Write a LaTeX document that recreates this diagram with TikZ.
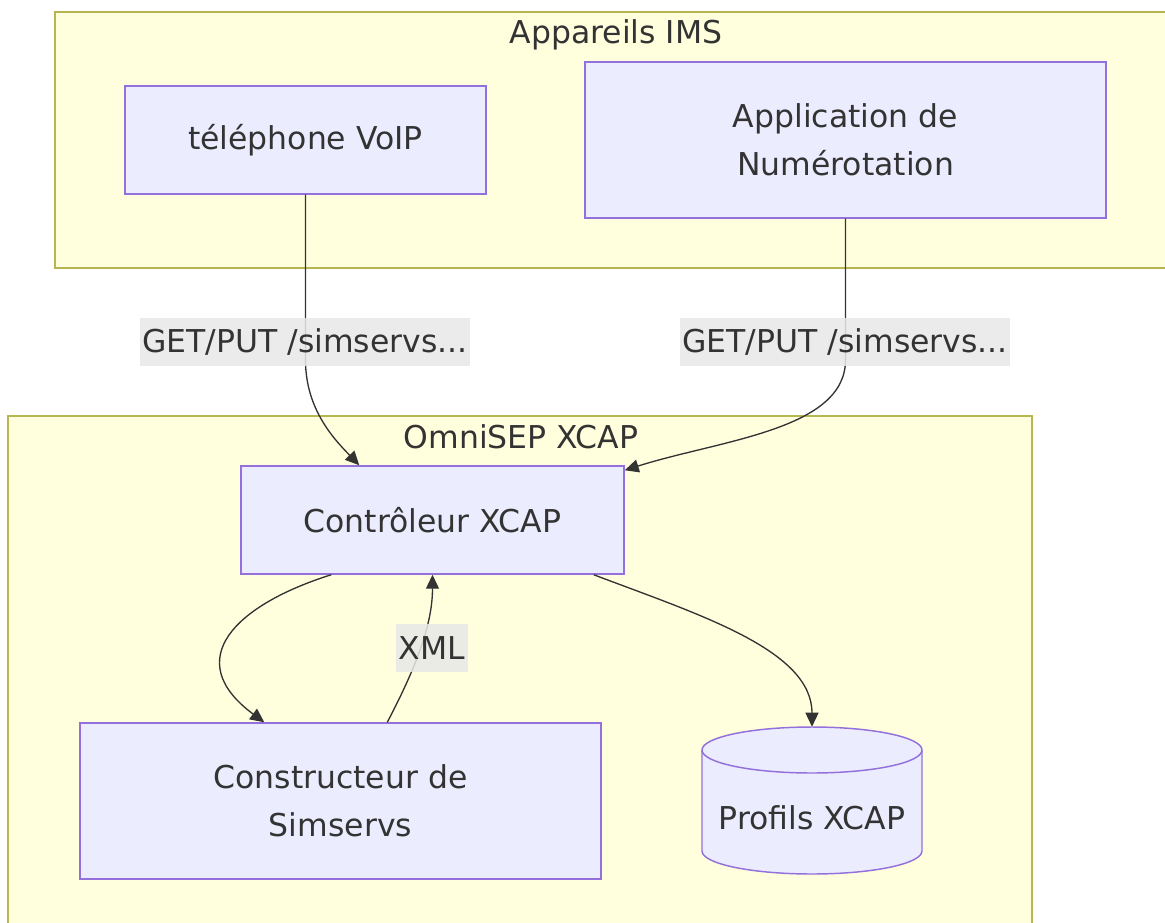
\documentclass[tikz,border=0pt]{standalone}
\usepackage{fontspec}
\setmainfont{DejaVu Sans}
\usetikzlibrary{arrows.meta,calc}
\definecolor{clfill}{HTML}{FFFFDE}
\definecolor{cldraw}{HTML}{AAAA33}
\definecolor{ndfill}{HTML}{ECECFF}
\definecolor{nddraw}{HTML}{9370DB}
\definecolor{txt}{HTML}{333333}
\definecolor{lblfill}{HTML}{E8E8E8}
\begin{document}
\begin{tikzpicture}[x=0.75pt,y=-0.75pt,
  every node/.style={font=\fontsize{23.6}{36}\selectfont, text=txt},
  cluster/.style={draw=cldraw!85!white, fill=clfill, line width=1.3pt},
  box/.style={draw=nddraw, fill=ndfill, line width=1.1pt, align=center, inner sep=0pt},
  edge/.style={draw=txt, line width=1pt, -{Triangle[length=10.5pt,width=9.75pt]}},
  elabel/.style={fill=lblfill, fill opacity=0.85, text opacity=1, inner xsep=2pt, inner ysep=0pt, minimum height=36pt}
]
\useasboundingbox (0,0) rectangle (1165,922);
% clusters
\draw[cluster] (55,12) rectangle (1180,268);
\draw[cluster] (8,416) rectangle (1032,940);
\node (t1) at (616,35) {Appareils IMS};
\node (t2) at (521,437) {OmniSEP XCAP};
% nodes
\node[box, minimum width=270.75pt, minimum height=81pt] (voip) at (305.5,140) {téléphone VoIP};
\node[box, minimum width=390.75pt, minimum height=117pt] (app) at (845.5,140) {Application de\\Numérotation};
\node[box, minimum width=287.25pt, minimum height=81pt] (ctrl) at (432.5,520) {Contrôleur XCAP};
\node[box, minimum width=390.75pt, minimum height=117pt] (cons) at (340.5,801) {Constructeur de\\Simservs};
\node[inner sep=0pt, minimum width=165pt, minimum height=110.25pt] (prof) at (812,800.5) {};
\path[fill=ndfill, draw=nddraw, line width=1.1pt] (702,750) -- (702,851)
  arc[start angle=180, end angle=0, x radius=110, y radius=23] -- (922,750)
  arc[start angle=0, end angle=-180, x radius=110, y radius=23] -- cycle;
\draw[draw=nddraw, line width=1.1pt] (702,750) arc[start angle=180, end angle=0, x radius=110, y radius=23];
\node (proftext) at (812,818) {Profils XCAP};
% edges
\draw[edge] (voip.south) -- (305.5,360) .. controls (305.5,410) and (335,440) .. ($(ctrl.north west)+(119,0)$);
\draw[edge] (app.south) -- (845.5,360) .. controls (845.5,430) and (720,440) .. ($(ctrl.north east)+(0,5)$);
\draw[edge] ($(ctrl.south west)+(91,0)$) .. controls (235,605) and (180,660) .. ($(cons.north west)+(185,0)$);
\draw[edge] ($(cons.north west)+(308,0)$) .. controls (420,660) and (432.5,620) .. (ctrl.south);
\draw[edge] ($(ctrl.south east)+(-31,0)$) .. controls (700,615) and (812,650) .. (prof.north);
% edge labels
\node[elabel] (l1) at (305,342) {GET/PUT /simservs...};
\node[elabel] (l2) at (845,342) {GET/PUT /simservs...};
\node[elabel] (l3) at (432,648) {XML};
\end{tikzpicture}
\end{document}
